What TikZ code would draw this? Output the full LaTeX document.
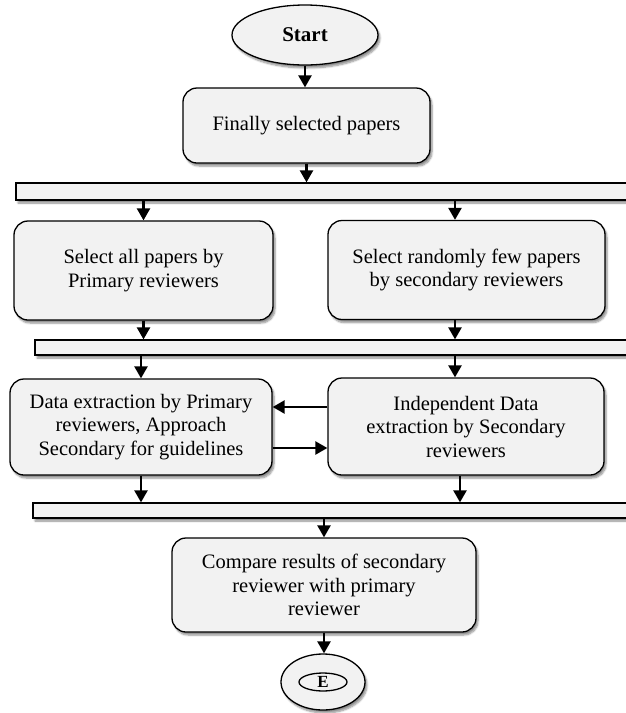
\documentclass[tikz,border=0pt]{standalone}
\usepackage{fontspec}
\setmainfont{Liberation Serif}
\usetikzlibrary{positioning,arrows.meta,shapes.geometric,shadows.blur}

\begin{document}
\begin{tikzpicture}[x=1pt, y=-1pt,
    proc/.style={draw, line width=1.3pt, rounded corners=14pt, fill=gray!10, align=center,
                 font=\fontsize{20.5}{23.5}\selectfont, inner sep=0pt,
                 blur shadow={shadow xshift=2pt, shadow yshift=-3pt, shadow blur steps=6, shadow opacity=45}},
    bar/.style={draw, line width=1.3pt, fill=gray!10, inner sep=0pt,
                blur shadow={shadow xshift=2pt, shadow yshift=-3pt, shadow blur steps=6, shadow opacity=45}},
    term/.style={ellipse, draw, line width=1.3pt, fill=gray!10, inner sep=0pt,
                 font=\fontsize{21}{24}\selectfont\bfseries},
    flow/.style={line width=2.4pt, -{Triangle[length=12pt, width=13pt]}}]
  \useasboundingbox (0,0) rectangle (625,713);
  % start and first step
  \node[term, minimum width=146pt, minimum height=60pt,
        blur shadow={shadow xshift=2pt, shadow yshift=-3pt, shadow blur steps=6, shadow opacity=45}] (start) at (305,35) {Start};
  \node[proc, minimum width=247pt, minimum height=75pt] (sel) at (306.5,125.5) {Finally selected papers};
  % split bars
  \node[bar, minimum width=612pt, minimum height=17pt] (bar1) at (322,191.5) {};
  \node[bar, minimum width=593pt, minimum height=15pt] (bar2) at (331.5,347.5) {};
  \node[bar, minimum width=595pt, minimum height=15pt] (bar3) at (330.5,510.5) {};
  % selection (row 2)
  \node[proc, minimum width=259pt, minimum height=99pt] (l2) at (143.5,270.5) {Select all papers by\\Primary reviewers};
  \node[proc, minimum width=277pt, minimum height=99pt] (r2) at (466.5,270) {Select randomly few papers\\by secondary reviewers};
  % extraction (row 3)
  \node[proc, minimum width=262pt, minimum height=96pt] (l3) at (141,427) {Data extraction by Primary\\reviewers, Approach\\Secondary for guidelines};
  \node[proc, minimum width=276pt, minimum height=97pt] (r3) at (466,426.5) {Independent Data\\extraction by Secondary\\reviewers};
  % comparison and end
  \node[proc, minimum width=304pt, minimum height=94pt] (cmp) at (324,585) {Compare results of secondary\\reviewer with primary\\reviewer};
  \node[term, minimum width=84pt, minimum height=56pt,
        blur shadow={shadow xshift=2pt, shadow yshift=-3pt, shadow blur steps=6, shadow opacity=45}] (fin) at (323,682) {};
  \node[term, minimum width=48pt, minimum height=18pt, font=\fontsize{17}{19}\selectfont\bfseries] (finE) at (fin) {E};
  % arrow anchors on the right column
  \coordinate (r2in) at ([xshift=-11.5pt]r2.north);
  \coordinate (r2out) at ([xshift=-11.5pt]r2.south);
  \coordinate (r3in) at ([xshift=-11pt]r3.north);
  \coordinate (r3out) at ([xshift=-6pt]r3.south);
  % flow
  \draw[flow] (start.south) -- (start.south |- sel.north);
  \draw[flow] (sel.south) -- (sel.south |- bar1.north);
  \draw[flow] (l2.north |- bar1.south) -- (l2.north);
  \draw[flow] (r2in |- bar1.south) -- (r2in);
  \draw[flow] (l2.south) -- (l2.south |- bar2.north);
  \draw[flow] (r2out) -- (r2out |- bar2.north);
  \draw[flow] (l3.north |- bar2.south) -- (l3.north);
  \draw[flow] (r3in |- bar2.south) -- (r3in);
  \draw[flow] ([yshift=19.5pt]r3.west) -- ([yshift=19.5pt]r3.west -| l3.east);
  \draw[flow] ([yshift=-21pt]l3.east) -- ([yshift=-21pt]l3.east -| r3.west);
  \draw[flow] (l3.south) -- (l3.south |- bar3.north);
  \draw[flow] (r3out) -- (r3out |- bar3.north);
  \draw[flow] (cmp.north |- bar3.south) -- (cmp.north);
  \draw[flow] (cmp.south) -- (cmp.south |- fin.north);
\end{tikzpicture}
\end{document}
